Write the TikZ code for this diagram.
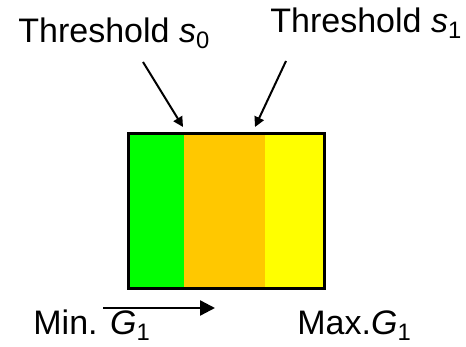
\documentclass[tikz,border=0pt]{standalone}
\usepackage{fontspec}
\setmainfont{Liberation Sans}
\usepackage{xcolor}
\usetikzlibrary{arrows.meta,positioning,calc}

\definecolor{zgreen}{HTML}{00FF00}
\definecolor{zorange}{HTML}{FFC800}
\definecolor{zyellow}{HTML}{FFFF00}

\begin{document}
\begin{tikzpicture}[
    x=0.5pt, y=-0.5pt,
    lbl/.style={inner sep=0pt, anchor=base west, font=\fontsize{17}{20}\selectfont},
    band/.style={rectangle, draw=#1, fill=#1, line width=0.6pt, inner sep=0pt, minimum height=76.5pt},
    arr/.style={-{Triangle[length=5pt,width=5pt]}, line width=1pt, draw=black},
    dir/.style={-{Triangle[length=7.5pt,width=7.5pt]}, line width=1.2pt, draw=black}
]
    \useasboundingbox (0,0) rectangle (466,347);

    % colour bands of the gain range
    \node [band=zgreen, minimum width=27.5pt, anchor=north west] (low) at (128,134) {};
    \node [band=zorange, minimum width=40pt, right=0pt of low] (mid) {};
    \node [band=zyellow, minimum width=29pt, right=0pt of mid] (high) {};
    \draw [line width=1.5pt] (low.north west) rectangle (high.south east);

    % thresholds
    \node [lbl] (t0) at (18,43) {Threshold \textit{s}\textsubscript{0}};
    \node [lbl] (t1) at (270,33) {Threshold \textit{s}\textsubscript{1}};
    \coordinate (a0) at (143,62);
    \coordinate (a1) at (286,61);
    \coordinate (c0) at (183,127);
    \coordinate (c1) at (255,127);
    \draw [arr] (a0) -- (c0);
    \draw [arr] (a1) -- (c1);

    % range of G1
    \node [lbl] (gmin) at (33,335) {Min. \textit{G}\textsubscript{1}};
    \node [lbl] (gmax) at (297,335) {Max.\textit{G}\textsubscript{1}};
    \coordinate (ga) at (103,308);
    \coordinate (gb) at (215,308);
    \draw [dir] (ga) -- (gb);
\end{tikzpicture}
\end{document}
